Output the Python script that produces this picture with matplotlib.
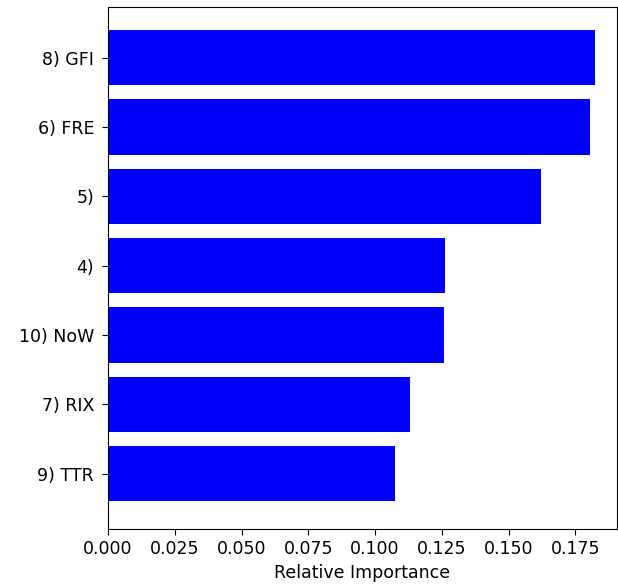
import matplotlib
matplotlib.use('Agg')
import matplotlib.pyplot as plt
import numpy as np

# feature importances, bottom to top
features = ['9) TTR', '7) RIX', '10) NoW', '4)', '5)', '6) FRE', '8) GFI']
importance = [0.1074, 0.1130, 0.1258, 0.1262, 0.1622, 0.1806, 0.1823]

fig = plt.figure(figsize=(6.18, 5.85), dpi=100)
ax = fig.add_axes([0.1748, 0.0957, 0.8237, 0.8923])

pos = np.arange(len(features))
ax.barh(pos, importance, height=0.8, color='blue', align='center')
ax.set_yticks(pos)
ax.set_yticklabels(features, fontsize=12.5)
ax.set_xticks(np.arange(0, 0.2, 0.025))
ax.set_xticklabels(['%.3f' % t for t in np.arange(0, 0.2, 0.025)], fontsize=12.5)
ax.set_xlim(0, 0.1906)
ax.set_ylim(-0.8, 6.73)
ax.set_xlabel('Relative Importance', fontsize=12.5)
ax.tick_params(length=4.5)
ax.tick_params(axis='y', pad=5.5)

plt.savefig('out.png', dpi=100)
plt.close()
